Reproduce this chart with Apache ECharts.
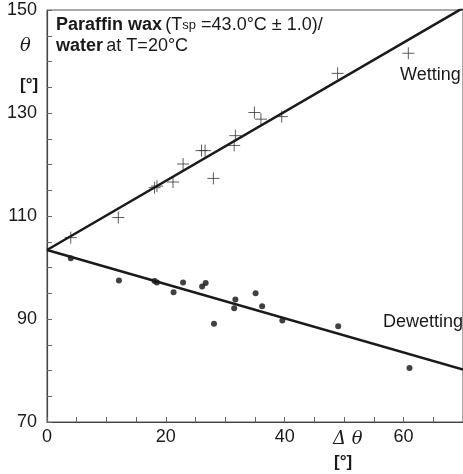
<!DOCTYPE html>
<html>
<head>
<meta charset="utf-8">
<script src="https://cdn.jsdelivr.net/npm/echarts@6/dist/echarts.min.js"></script>
<style>
  html, body { margin: 0; padding: 0; background: #fff; }
  #chart { width: 463px; height: 474px; }
</style>
</head>
<body>
<div id="chart"></div>
<script>
// 数据 - 读自原图
const wetting = [
  [4.0, 105.8], [12.0, 109.7], [18.1, 115.5], [18.5, 115.8], [21.2, 116.6],
  [22.9, 120.1], [26.0, 122.7], [26.6, 122.7], [28.0, 117.3], [31.5, 123.7],
  [31.7, 125.6], [34.9, 130.1], [36.0, 128.8], [39.5, 129.3], [48.9, 137.7],
  [60.8, 141.6]
];
const dewetting = [
  [4.0, 101.8], [12.1, 97.5], [18.1, 97.4], [18.5, 97.1], [21.3, 95.2],
  [22.9, 97.1], [26.1, 96.3], [26.7, 97.0], [28.1, 89.1], [31.5, 92.1],
  [31.7, 93.8], [35.1, 95.0], [36.2, 92.5], [39.6, 89.7], [49.0, 88.6],
  [61.0, 80.5]
];
const wettingFit = [[0, 103.4], [70, 150.4]];
const dewettingFit = [[0, 103.4], [70, 80.2]];
const xLabels = [0, 20, 40, 60];
const yLabels = [70, 90, 110, 130, 150];

const FONT = 'Liberation Sans, Arial, sans-serif';
const INK = '#1a1a1a';

const chart = echarts.init(document.getElementById('chart'));
chart.setOption({
  backgroundColor: '#fff',
  animation: false,
  grid: {
    left: 47, right: -7.5, top: 10, bottom: 52,
    show: true, borderColor: '#555', borderWidth: 1, backgroundColor: 'transparent'
  },
  xAxis: {
    type: 'value', min: 0, max: 70, interval: 5,
    axisLine: { lineStyle: { color: '#444', width: 1.2 } },
    axisTick: { inside: true, length: 5, lineStyle: { color: '#666' } },
    splitLine: { show: false },
    axisLabel: {
      color: INK, fontFamily: FONT, fontSize: 18, margin: 6,
      formatter: v => xLabels.includes(v) ? String(v) : '',
      showMaxLabel: false
    }
  },
  yAxis: {
    type: 'value', min: 70, max: 150, interval: 5,
    axisLine: { show: true, lineStyle: { color: '#444', width: 1.2 } },
    axisTick: { show: true, inside: true, length: 5, lineStyle: { color: '#666' } },
    splitLine: { show: false },
    axisLabel: {
      color: INK, fontFamily: FONT, fontSize: 18, margin: 10,
      formatter: v => yLabels.includes(v) ? String(v) : ''
    }
  },
  series: [
    {
      name: 'Wetting fit', type: 'line', data: wettingFit,
      showSymbol: false, silent: true,
      lineStyle: { color: INK, width: 2.5 }
    },
    {
      name: 'Dewetting fit', type: 'line', data: dewettingFit,
      showSymbol: false, silent: true,
      lineStyle: { color: INK, width: 2.5 }
    },
    {
      name: 'Wetting', type: 'scatter', data: wetting,
      symbol: 'path://M6,0L6,12M0,6L12,6', symbolSize: 12,
      itemStyle: { color: 'none', borderColor: '#333', borderWidth: 1 }
    },
    {
      name: 'Dewetting', type: 'scatter', data: dewetting,
      symbol: 'circle', symbolSize: 6,
      itemStyle: { color: '#111' }
    }
  ],
  graphic: [
    {
      type: 'text', left: 56, top: 16,
      style: {
        text: '{b|Paraffin wax} {n|(T}{s|sp}{n| =43.0°C ± 1.0)/}\n{b|water} {n|at T=20°C}',
        rich: {
          b: { fontFamily: FONT, fontSize: 18, fontWeight: 'bold', fill: INK, lineHeight: 21 },
          n: { fontFamily: FONT, fontSize: 18, fill: INK, lineHeight: 21 },
          s: { fontFamily: FONT, fontSize: 13, fill: INK, lineHeight: 21, verticalAlign: 'middle' }
        }
      }
    },
    {
      type: 'text', left: 20, top: 37,
      style: { text: 'θ', fontFamily: 'DejaVu Serif, serif', fontStyle: 'italic', fontSize: 18, fill: INK }
    },
    {
      type: 'text', left: 20, top: 77,
      style: { text: '[°]', fontFamily: FONT, fontWeight: 'bold', fontSize: 17, fill: INK }
    },
    {
      type: 'text', left: 333, top: 430,
      style: { text: 'Δ θ', fontFamily: 'DejaVu Serif, serif', fontStyle: 'italic', fontSize: 18, fill: INK }
    },
    {
      type: 'text', left: 334, top: 454,
      style: { text: '[°]', fontFamily: FONT, fontWeight: 'bold', fontSize: 17, fill: INK }
    },
    {
      type: 'text', left: 400, top: 66,
      style: { text: 'Wetting', fontFamily: FONT, fontSize: 18, fill: INK }
    },
    {
      type: 'text', left: 383, top: 313,
      style: { text: 'Dewetting', fontFamily: FONT, fontSize: 18, fill: INK }
    }
  ]
});
</script>
</body>
</html>
